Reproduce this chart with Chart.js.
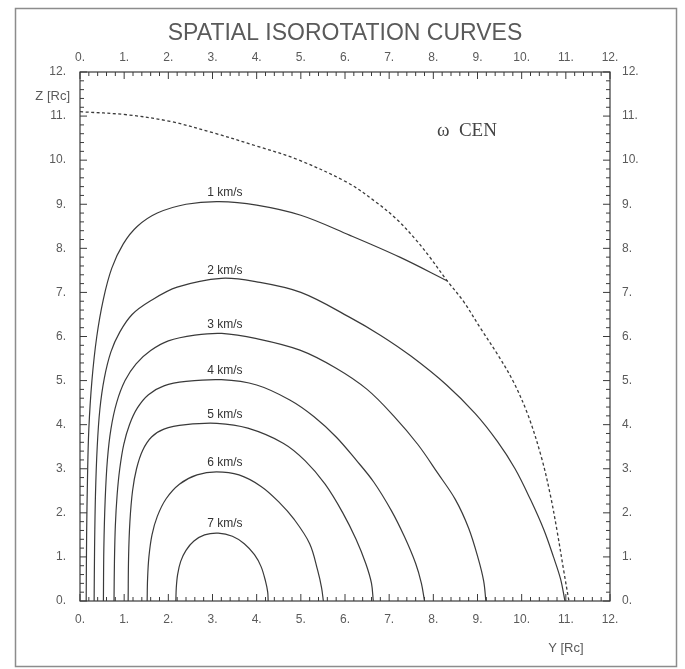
<!DOCTYPE html>
<html>
<head>
<meta charset="utf-8">
<title>Spatial isorotation curves</title>
<script src="https://cdn.jsdelivr.net/npm/chart.js@4.4.1/dist/chart.umd.min.js"></script>
<style>
html, body { margin: 0; padding: 0; background: #fff; }
#wrap { width: 685px; height: 669px; }
</style>
</head>
<body>
<div id="wrap"><canvas id="isoChart"></canvas></div>
<script>
/**
 *  Isorotation curves of omega Cen, Y and Z in units of Rc
 */

// [Y, Z] points, one list per curve
const curve1 = [[0.14,0],[0.15,1.5],[0.17,2.8],[0.2,3.9],[0.27,5.0],[0.38,6.0],[0.53,6.85],[0.72,7.55],[0.98,8.1],[1.3,8.5],[1.75,8.8],[2.4,9.0],[3.15,9.06],[4.0,8.98],[5.0,8.75],[6.1,8.3],[7.24,7.8],[8.32,7.26]];
const curve2 = [[0.32,0],[0.33,1.2],[0.35,2.4],[0.39,3.5],[0.45,4.35],[0.55,5.05],[0.7,5.65],[0.9,6.1],[1.18,6.5],[1.58,6.8],[2.2,7.12],[3.2,7.32],[4.0,7.24],[5.0,7.0],[6.1,6.44],[6.8,6.03],[7.5,5.55],[8.3,4.9],[8.95,4.25],[9.45,3.62],[9.85,3.0],[10.2,2.3],[10.5,1.62],[10.72,1.0],[10.88,0.5],[10.98,0]];
const curve3 = [[0.53,0],[0.54,1.2],[0.57,2.3],[0.62,3.2],[0.7,3.9],[0.83,4.5],[1.02,5.0],[1.27,5.38],[1.6,5.68],[2.0,5.9],[2.6,6.03],[3.21,6.07],[4.0,5.95],[4.98,5.69],[5.8,5.28],[6.5,4.8],[7.1,4.2],[7.65,3.55],[8.1,2.9],[8.5,2.3],[8.8,1.65],[9.02,0.95],[9.14,0.45],[9.19,0]];
const curve4 = [[0.77,0],[0.78,0.9],[0.8,1.7],[0.84,2.4],[0.9,3.0],[0.99,3.55],[1.12,4.0],[1.3,4.38],[1.55,4.68],[1.9,4.88],[2.4,4.98],[3.2,5.02],[4.0,4.9],[4.75,4.56],[5.3,4.18],[5.8,3.72],[6.25,3.2],[6.65,2.7],[7.05,2.05],[7.35,1.45],[7.6,0.85],[7.73,0.4],[7.8,0]];
const curve5 = [[1.09,0],[1.1,1.0],[1.13,1.8],[1.19,2.5],[1.28,3.0],[1.42,3.42],[1.62,3.72],[1.9,3.9],[2.4,4.0],[3.1,4.03],[3.8,3.92],[4.6,3.58],[5.1,3.18],[5.55,2.65],[5.95,2.0],[6.25,1.4],[6.47,0.85],[6.6,0.4],[6.64,0]];
const curve6 = [[1.52,0],[1.53,0.5],[1.56,1.0],[1.63,1.5],[1.75,1.92],[1.95,2.32],[2.25,2.65],[2.65,2.86],[3.09,2.93],[3.6,2.86],[4.1,2.6],[4.5,2.25],[4.85,1.85],[5.2,1.3],[5.38,0.7],[5.47,0.3],[5.51,0]];
const curve7 = [[2.17,0],[2.18,0.3],[2.21,0.6],[2.28,0.9],[2.4,1.15],[2.58,1.36],[2.82,1.5],[3.13,1.54],[3.45,1.47],[3.72,1.3],[3.95,1.05],[4.1,0.78],[4.2,0.45],[4.25,0.2],[4.26,0]];

// dashed outer boundary
const boundary = [[0,11.1],[1.06,11.03],[2.04,10.88],[3.02,10.62],[4.0,10.32],[4.91,10.02],[6.04,9.5],[6.7,9.05],[7.17,8.66],[7.6,8.2],[7.92,7.8],[8.3,7.28],[8.68,6.8],[9.06,6.2],[9.45,5.6],[9.81,4.98],[10.15,4.2],[10.45,3.25],[10.65,2.4],[10.8,1.6],[10.95,0.7],[11.07,0]];

const curveNames = ['1 km/s', '2 km/s', '3 km/s', '4 km/s', '5 km/s', '6 km/s', '7 km/s'];
const nameY = [3.28, 3.28, 3.28, 3.28, 3.28, 3.28, 3.28];
const nameZ = [9.27, 7.5, 6.27, 5.23, 4.22, 3.14, 1.76];

const axisMin = 0;
const axisMax = 12;

const lineColor = '#3a3a3a';
const textColor = '#5a5a5a';
const sans = '"Liberation Sans", Arial, sans-serif';

const curves = [curve1, curve2, curve3, curve4, curve5, curve6, curve7];

let datasets = curves.map((c, i) => ({
    label: curveNames[i],
    data: c.map(p => ({x: p[0], y: p[1]})),
    showLine: true,
    borderColor: lineColor,
    borderWidth: 1.2,
    pointRadius: 0,
    tension: 0.35
}));
datasets.push({
    label: 'boundary',
    data: boundary.map(p => ({x: p[0], y: p[1]})),
    showLine: true,
    borderColor: lineColor,
    borderWidth: 1.3,
    borderDash: [3, 2.5],
    pointRadius: 0,
    tension: 0.35
});

// frame with inward ticks, curve labels, axis names
const framePlugin = {
    id: 'framePlugin',
    beforeDraw(chart) {
        const ctx = chart.ctx;
        ctx.save();
        ctx.fillStyle = '#fff';
        ctx.fillRect(0, 0, chart.width, chart.height);
        ctx.strokeStyle = '#8c8c8c';
        ctx.lineWidth = 1.5;
        ctx.strokeRect(15.5, 8.5, chart.width - 24, chart.height - 11);
        ctx.restore();
    },
    afterDraw(chart) {
        const {ctx, chartArea: a, scales} = chart;
        ctx.save();
        ctx.strokeStyle = lineColor;
        ctx.lineWidth = 1.2;
        ctx.strokeRect(a.left, a.top, a.right - a.left, a.bottom - a.top);
        ctx.lineWidth = 1;
        ctx.beginPath();
        for (let i = 0; i <= 60; i++) {
            const v = i / 5;
            const len = i % 5 === 0 ? 7 : 4;
            const px = scales.x.getPixelForValue(v);
            const py = scales.y.getPixelForValue(v);
            ctx.moveTo(px, a.bottom); ctx.lineTo(px, a.bottom - len);
            ctx.moveTo(px, a.top); ctx.lineTo(px, a.top + len);
            ctx.moveTo(a.left, py); ctx.lineTo(a.left + len, py);
            ctx.moveTo(a.right, py); ctx.lineTo(a.right - len, py);
        }
        ctx.stroke();

        ctx.fillStyle = '#333';
        ctx.font = '12px ' + sans;
        ctx.textAlign = 'center';
        ctx.textBaseline = 'middle';
        curveNames.forEach((name, i) => {
            ctx.fillText(name, scales.x.getPixelForValue(nameY[i]), scales.y.getPixelForValue(nameZ[i]));
        });

        ctx.fillStyle = textColor;
        ctx.font = '13px ' + sans;
        ctx.textAlign = 'right';
        ctx.fillText('Z [Rc]', a.left - 10, scales.y.getPixelForValue(11.45));
        ctx.textAlign = 'center';
        ctx.fillText('Y [Rc]', scales.x.getPixelForValue(11.0), a.bottom + 47);

        ctx.fillStyle = '#444';
        ctx.font = '19px "Liberation Serif", "Times New Roman", serif';
        ctx.fillText('\u03c9  CEN', scales.x.getPixelForValue(8.76), scales.y.getPixelForValue(10.66));
        ctx.restore();
    }
};

function axisTicks(pad) {
    return {
        stepSize: 1,
        autoSkip: false,
        padding: pad,
        color: textColor,
        font: {family: sans, size: 12},
        callback: v => v + '.'
    };
}

const noGrid = {display: false, drawTicks: false};

const isoChart = document.getElementById('isoChart');
new Chart(isoChart, {
    type: 'scatter',
    data: {datasets: datasets},
    plugins: [framePlugin],
    options: {
        responsive: true,
        maintainAspectRatio: false,
        animation: false,
        layout: {padding: 0},
        scales: {
            x: {
                type: 'linear', position: 'bottom', min: axisMin, max: axisMax,
                ticks: axisTicks(11), grid: noGrid, border: {display: false},
                afterFit: s => { s.height = 68; }
            },
            x2: {
                type: 'linear', position: 'top', min: axisMin, max: axisMax,
                ticks: axisTicks(7), grid: noGrid, border: {display: false},
                title: {
                    display: true,
                    text: 'SPATIAL ISOROTATION CURVES',
                    color: textColor,
                    padding: {top: 20, bottom: 0},
                    font: {family: sans, size: 23, weight: 'normal'}
                },
                afterFit: s => { s.height = 72; }
            },
            y: {
                type: 'linear', position: 'left', min: axisMin, max: axisMax,
                ticks: axisTicks(14), grid: noGrid, border: {display: false},
                afterFit: s => { s.width = 80; }
            },
            y2: {
                type: 'linear', position: 'right', min: axisMin, max: axisMax,
                ticks: axisTicks(12), grid: noGrid, border: {display: false},
                afterFit: s => { s.width = 75; }
            }
        },
        plugins: {
            legend: {display: false},
            tooltip: {enabled: false}
        }
    }
});
</script>
</body>
</html>
